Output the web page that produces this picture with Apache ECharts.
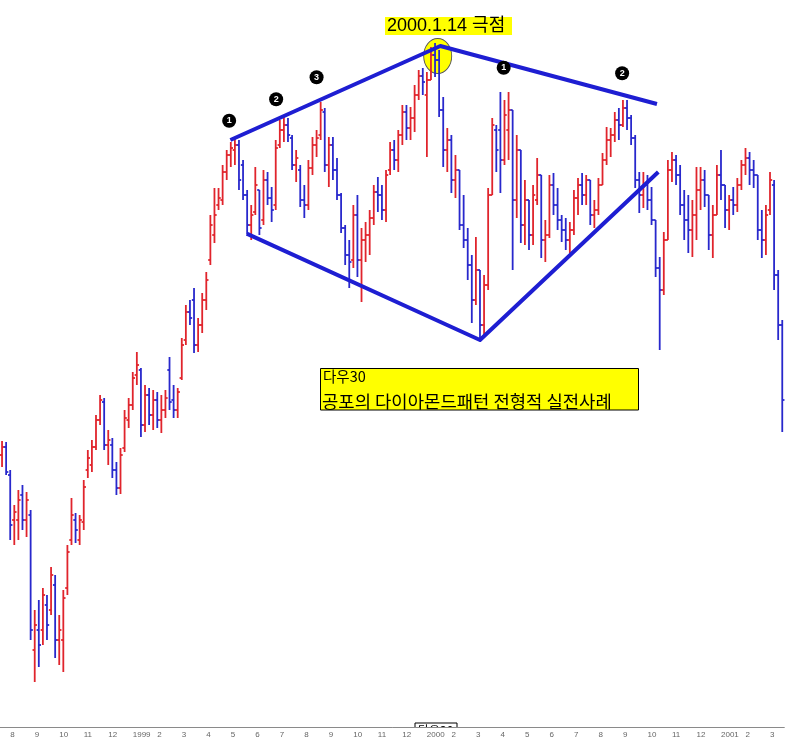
<!DOCTYPE html>
<html><head><meta charset="utf-8">
<script src="https://cdn.jsdelivr.net/npm/echarts@6/dist/echarts.min.js"></script>
<style>html,body{margin:0;padding:0;background:#fff}#c{width:802px;height:745px}</style>
</head><body><div id="c"></div>
<script>
// ---- categories / tick labels ----
const months = ['1998-07','1998-08','1998-09','1998-10','1998-11','1998-12',
  '1999-01','1999-02','1999-03','1999-04','1999-05','1999-06','1999-07','1999-08','1999-09','1999-10','1999-11','1999-12',
  '2000-01','2000-02','2000-03','2000-04','2000-05','2000-06','2000-07','2000-08','2000-09','2000-10','2000-11','2000-12',
  '2001-01','2001-02','2001-03'];
const barsPerMonth = [2,6,6,6,6,6, 6,6,6,6,6,6,6,6,6,6,6,6, 6,6,6,6,6,6,6,6,6,6,6,6, 6,6,4];
const tickLabels = ['7','8','9','10','11','12',
  '1999','2','3','4','5','6','7','8','9','10','11','12',
  '2000','2','3','4','5','6','7','8','9','10','11','12',
  '2001','2','3'];

// ---- Dow 30 price bars ----
const opens = [
 8885,8941, 8745,8430,8430,8605,8430,8465, 7520,7660,7660,7835,7800,7975,
 7590,7590,7954,8290,8430,8290, 8416,8780,8815,8941,9130,9256, 8955,8955,8780,8654,8934,9130,
 9235,9445,9480,9095,9305,9165, 9270,9130,9200,9480,9270,9200, 9424,9690,9886,9970,9655,9795,
 9970,10250,10425,10635,10670,10866, 10985,11020,11055,10915,10705,10495, 10586,10740,10530,10810,10684,10635,
 11055,11160,11195,11104,10915,10880, 10670,10635,10894,11055,11125,11286, 10915,11055,10880,10705,10474,10285,
 10250,10565,10250,10390,10425,10544, 10726,10705,10600,10880,11020,10950, 11125,11286,11174,11244,11405,11538,
 11405,11510,11685,11650,11300,11020, 11090,10810,10880,10495,10390,10215, 9970,10180,9795,10075,10705,11160,
 11160,10950,11160,11300,10670,11020, 10495,10670,10425,10670,10845,10390, 10425,10775,10635,10530,10460,10390,
 10460,10684,10775,10705,10810,10565, 10600,10775,10950,11090,11125,11230, 11195,11314,11244,11104,10810,10705,
 10775,10670,10530,10194,10040,10390, 10880,10950,10845,10635,10530,10460, 10565,10740,10810,10705,10425,10565,
 10845,10775,10600,10670,10635,10775, 10915,10964,10880,10845,10460,10390, 10600,10775,10145,9795];
const highs = [
 8983,8976, 8780,8535,8640,8675,8626,8500, 7800,7870,7954,7905,8101,8045,
 7765,7940,8255,8584,8479,8465, 8710,8920,8990,9165,9305,9284, 9060,9004,8836,8934,9200,9284,
 9466,9606,9494,9375,9354,9340, 9326,9305,9340,9571,9375,9354, 9704,9935,9970,10054,9844,10019,
 10166,10565,10754,10754,10915,11020, 11076,11097,11090,10950,10740,10635, 10901,10740,10880,10866,10761,11090,
 11230,11251,11244,11125,11020,10915, 10775,10950,11111,11160,11356,11314, 11111,11111,10964,10719,10495,10390,
 10635,10705,10474,10516,10600,10775, 10831,10775,10880,11076,11090,11160, 11335,11335,11321,11475,11580,11594,
 11566,11741,11769,11720,11391,11174, 11125,10985,10880,10705,10474,10285, 10411,10180,10145,10754,11244,11195,
 11426,11370,11426,11300,11125,11020, 10810,10670,10775,10964,10845,10530, 10845,10859,10754,10565,10544,10516,
 10740,10824,10859,10845,10810,10670, 10824,10999,11181,11174,11286,11314, 11370,11370,11265,11125,10866,10866,
 10845,10761,10530,10271,10446,10950, 11006,10985,10915,10740,10705,10670, 10901,10901,10880,10705,10635,10915,
 11020,10775,10705,10761,10824,10950, 11034,11006,10950,10845,10600,10635, 10866,10810,10180,9830];
const lows = [
 8801,8745, 8290,8255,8290,8360,8311,7590, 7296,7401,7555,7590,7765,7464,
 7415,7366,7905,8255,8269,8255, 8360,8724,8766,8920,9095,8920, 8815,8724,8605,8612,8906,9074,
 9200,9375,9011,9046,9095,9060, 9074,9039,9144,9200,9144,9144, 9410,9655,9795,9599,9606,9739,
 9900,10215,10369,10600,10635,10810, 10901,10915,10740,10670,10432,10390, 10565,10425,10495,10635,10516,10600,
 11034,11076,11076,10880,10796,10621, 10544,10600,10845,10971,11090,10866, 10761,10810,10670,10439,10215,10054,
 10194,10131,9956,10236,10285,10495, 10586,10530,10516,10845,10880,10866, 11055,11090,11090,11146,11370,11405,
 10971,11510,11531,11251,10901,10866, 10719,10684,10460,10334,10110,9809, 9935,9704,9725,10040,10705,10866,
 10719,10915,10950,10180,10544,10369, 10355,10320,10355,10635,10264,10236, 10404,10565,10460,10376,10320,10299,
 10425,10565,10635,10635,10495,10474, 10565,10775,10915,10971,11076,11090, 11181,11160,11055,10754,10579,10614,
 10600,10495,10131,9620,10005,10390, 10796,10775,10565,10390,10299,10271, 10390,10600,10621,10320,10264,10565,
 10670,10474,10460,10565,10586,10740, 10845,10775,10754,10390,10264,10285, 10565,10040,9690,9046];
const closes = [
 8941,8766, 8395,8486,8570,8430,8570,7660, 7695,7555,7905,7695,8045,7590,
 7660,7884,8206,8465,8360,8430, 8661,8864,8941,9130,9270,8955, 8990,8780,8654,8885,9144,9235,
 9424,9515,9095,9305,9165,9270, 9130,9200,9284,9256,9200,9326, 9655,9886,9844,9655,9795,9970,
 10110,10495,10565,10684,10866,10985, 11034,11055,10810,10705,10495,10565, 10775,10474,10810,10684,10600,11034,
 11160,11195,11125,10915,10964,10670, 10635,10894,11055,11104,11300,10915, 11055,10880,10705,10474,10285,10236,
 10565,10250,10390,10425,10544,10726, 10705,10600,10845,11020,10950,11125, 11286,11174,11244,11405,11538,11496,
 11510,11685,11650,11300,11020,11090, 10810,10880,10495,10390,10215,9970, 10180,9795,10075,10705,11195,11020,
 10950,11265,11300,10670,11020,10495, 10670,10425,10705,10845,10390,10425, 10775,10635,10530,10460,10390,10460,
 10684,10775,10705,10810,10565,10600, 10775,10950,11090,11125,11230,11195, 11314,11244,11104,10810,10705,10775,
 10670,10530,10194,10040,10390,10880, 10950,10845,10635,10530,10460,10565, 10740,10810,10705,10425,10565,10845,
 10775,10600,10670,10635,10775,10915, 10964,10880,10845,10460,10390,10565, 10810,10145,9795,9270];

// ---- annotations (x = bar index, y = index level) ----
const upperLine = [[55.9,11090],[107.3,11748],[160.33,11342]];
const lowerLine = [[59.9,10435],[117.0,9690],[160.65,10866]];
const peakMark = [[106.65,11678]];
const waveMarks = [[55.6,11225,'1'],[67.1,11375,'2'],[77.0,11529,'3'],[122.8,11596,'1'],[151.8,11557,'2']];

// ---- build ----
const categories = [];
const monthStartIdx = {};
const yearStartIdx = {};
months.forEach((m, mi) => {
  for (let k = 0; k < barsPerMonth[mi]; k++) {
    if (k === 0) {
      monthStartIdx[categories.length] = tickLabels[mi];
      if (m.endsWith('-01')) yearStartIdx[categories.length] = true;
    }
    categories.push(m + '/' + (k + 1));
  }
});
const N = categories.length;
const ohlc = categories.map((c, i) => [i, opens[i], highs[i], lows[i], closes[i]]);
const isTick = (i) => i > 0 && monthStartIdx[i] !== undefined;

const chart = echarts.init(document.getElementById('c'));
const gridW = 784.3;
chart.setOption({
  animation: false,
  backgroundColor: '#ffffff',
  grid: { left: 0, top: 0, width: gridW, height: 727.5, containLabel: false },
  xAxis: [
    { type: 'category', data: categories, boundaryGap: true, position: 'bottom', z: 10,
      axisLine: { onZero: false, lineStyle: { color: '#8a8a8a', width: 1 } },
      axisTick: { interval: isTick, length: 4, lineStyle: { color: '#777' } },
      axisLabel: { interval: isTick, formatter: (v, i) => monthStartIdx[i] || '', align: 'left',
        margin: 3, fontSize: 8, color: '#666', fontFamily: 'Liberation Sans' },
      splitLine: { show: false } },
    { type: 'category', data: categories, boundaryGap: true, position: 'bottom', z: 10,
      axisLine: { show: false, onZero: false },
      axisTick: { interval: (i) => !!yearStartIdx[i], length: 10, lineStyle: { color: '#777' } },
      axisLabel: { show: false }, splitLine: { show: false } },
    { type: 'value', min: -0.5, max: N - 0.5, show: false, position: 'bottom' }
  ],
  yAxis: { type: 'value', min: 6977.5, max: 12070, show: false, splitLine: { show: false } },
  graphic: [
    { type: 'rect', z: 1, shape: { x: 415, y: 723, width: 42, height: 14 }, style: { fill: '#fff', stroke: '#000', lineWidth: 1 } },
    { type: 'text', z: 1, x: 418, y: 724, style: { text: '다우30', fontSize: 12, fill: '#000', fontFamily: 'Noto Sans CJK KR' } },
    { type: 'rect', z: 2, shape: { x: 410, y: 728, width: 52, height: 17 }, style: { fill: '#fff' } },
    { type: 'rect', z: 20, shape: { x: 385, y: 17, width: 127, height: 18 }, style: { fill: '#ffff00' } },
    { type: 'text', z: 21, x: 387, y: 26, style: { text: '2000.1.14 극점', fontSize: 18, fill: '#000',
        fontFamily: "'Liberation Sans','Noto Sans CJK KR'", verticalAlign: 'middle' } },
    { type: 'rect', z: 20, shape: { x: 320.5, y: 368.5, width: 318, height: 41.5 }, style: { fill: '#ffff00', stroke: '#000', lineWidth: 1 } },
    { type: 'text', z: 21, x: 323, y: 376.5, style: { text: '다우30', fontSize: 14.5, fill: '#000',
        fontFamily: "'Noto Sans CJK KR'", verticalAlign: 'middle' } },
    { type: 'text', z: 21, x: 322, y: 402, scaleX: 1.045, originX: 0, style: { text: '공포의 다이아몬드패턴 전형적 실전사례', fontSize: 17, fill: '#000',
        fontFamily: "'Noto Sans CJK KR'", verticalAlign: 'middle' } }
  ],
  series: [
    { type: 'scatter', xAxisIndex: 2, yAxisIndex: 0, z: 1, silent: true, data: peakMark,
      symbol: 'circle', symbolSize: [28, 35],
      itemStyle: { color: '#ffff00', borderColor: '#555', borderWidth: 1, opacity: 1 } },
    { type: 'custom', name: '다우30', xAxisIndex: 0, yAxisIndex: 0, z: 2, data: ohlc,
      encode: { x: 0, y: [1, 2, 3, 4] },
      renderItem: function (params, api) {
        const i = api.value(0);
        const o = api.value(1), h = api.value(2), l = api.value(3), c = api.value(4);
        const pH = api.coord([i, h]), pL = api.coord([i, l]);
        const pO = api.coord([i, o]), pC = api.coord([i, c]);
        const x = pH[0];
        const color = c >= o ? '#e0242c' : '#2828cc';
        const st = () => ({ stroke: color, lineWidth: 1.8, fill: null });
        return { type: 'group', children: [
          { type: 'line', shape: { x1: x, y1: pH[1], x2: x, y2: pL[1] }, style: st() },
          { type: 'line', shape: { x1: x - 2.2, y1: pO[1], x2: x, y2: pO[1] }, style: st() },
          { type: 'line', shape: { x1: x, y1: pC[1], x2: x + 2.2, y2: pC[1] }, style: st() }
        ] };
      } },
    { type: 'line', xAxisIndex: 2, yAxisIndex: 0, z: 5, silent: true, data: upperLine, symbol: 'none',
      lineStyle: { color: '#1e1ed2', width: 4, join: 'round' } },
    { type: 'line', xAxisIndex: 2, yAxisIndex: 0, z: 5, silent: true, data: lowerLine, symbol: 'none',
      lineStyle: { color: '#1e1ed2', width: 4, join: 'round' } },
    { type: 'scatter', xAxisIndex: 2, yAxisIndex: 0, z: 6, silent: true, data: waveMarks,
      symbol: 'circle', symbolSize: 14, itemStyle: { color: '#000', opacity: 1 },
      label: { show: true, position: 'inside', formatter: (p) => p.data[2], color: '#fff',
        fontSize: 9, fontWeight: 'bold', fontFamily: 'Liberation Sans' } }
  ]
});
</script>
</body></html>
